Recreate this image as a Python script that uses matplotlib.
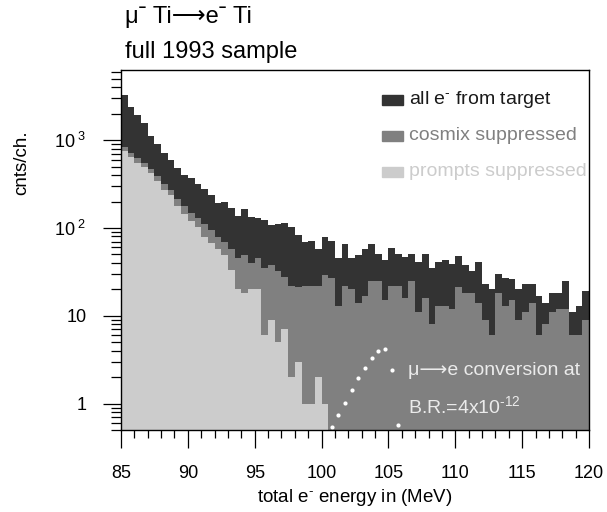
import numpy as np
import matplotlib
matplotlib.use("Agg")
import matplotlib.pyplot as plt
from matplotlib.patches import Rectangle
from matplotlib.ticker import FixedLocator, LogLocator, NullFormatter, MultipleLocator

plt.rcParams['font.family'] = ['Liberation Sans', 'DejaVu Sans']
plt.rcParams['mathtext.fontset'] = 'custom'
plt.rcParams['mathtext.rm'] = 'Liberation Sans'
plt.rcParams['mathtext.it'] = 'Liberation Sans:italic'

# 0.5 MeV channels from 85 to 120 MeV
bin_edges = np.arange(85, 120.01, 0.5)

# all e- from target
all_e = [3300, 2400, 1950, 1550, 1120, 900, 710, 595, 480, 400,
         368, 317, 278, 237, 191, 199, 167, 137, 163, 132,
         129, 123, 107, 110, 115, 102, 83, 70, 71, 57,
         79, 71, 46, 66, 45, 49, 57, 66, 50, 43,
         59, 51, 47, 51, 41, 51, 35, 41, 43, 39,
         48, 38, 32, 41, 23, 20, 30, 27, 26, 20,
         23, 23, 17, 14, 18, 18, 25, 11, 13, 19]

# cosmix suppressed
cosmix = [830, 710, 622, 550, 468, 392, 320, 272, 212, 178,
          147, 130, 111, 95, 78, 70, 58, 45, 49, 40,
          45, 35, 38, 32, 28, 22, 21, 22, 22, 22,
          29, 27, 13, 22, 20, 14, 17, 25, 25, 15,
          22, 22, 16, 25, 11, 16, 8, 13, 13, 12,
          21, 18, 18, 14, 9, 6, 18, 13, 15, 9,
          11, 14, 6, 8, 11, 12, 12, 6, 6, 9]

# prompts suppressed (empty above 100.5 MeV)
prompts = [759, 649, 554, 491, 420, 345, 270, 237, 178, 144,
           121, 103, 79, 67, 57, 49, 33, 20, 18, 20,
           20, 6, 9, 5, 7, 2, 3, 1, 1, 2, 1]

# expected mu->e conversion signal at B.R. = 4e-12
signal_e = [100.75, 101.25, 101.75, 102.25, 102.75, 103.25,
            103.75, 104.25, 104.75, 105.25, 105.75]
signal_n = [0.54, 0.74, 1.02, 1.41, 1.93, 2.53, 3.31, 3.98, 4.16, 2.42, 0.57]

SUP = r"$^{\text{-}}$"   # small raised dash like the original
ARROW = "\u27f6"

legend_labels = ["all e" + SUP + " from target", "cosmix suppressed", "prompts suppressed"]
colors = ["#333333", "#808080", "#cccccc"]
text_colors = ["#1a1a1a", "#808080", "#cccccc"]

fig = plt.figure(figsize=(6.07, 5.12), dpi=100)
ax = fig.add_axes([121 / 607, 82 / 512, 468 / 607, 360 / 512])

ax.stairs(all_e, bin_edges, fill=True, color=colors[0], baseline=0.1)
ax.stairs(cosmix, bin_edges, fill=True, color=colors[1], baseline=0.1)
ax.stairs(prompts, bin_edges[:len(prompts) + 1], fill=True, color=colors[2], baseline=0.1)

ax.plot(signal_e, signal_n, 'o', color='white', ms=3, mec='none')

ax.set_yscale('log')
ax.set_xlim(85, 120)
ax.set_ylim(0.5, 6300)

ax.xaxis.set_major_locator(MultipleLocator(5))
ax.xaxis.set_minor_locator(MultipleLocator(1))
ax.yaxis.set_major_locator(FixedLocator([1, 10, 100, 1000]))
ax.yaxis.set_minor_locator(LogLocator(base=10, subs=np.arange(2, 10)))
ax.yaxis.set_minor_formatter(NullFormatter())
ax.set_yticklabels(["1", "10", "10$^{\\ 2}$", "10$^{\\ 3}$"])

ax.tick_params(which='major', direction='out', length=13, width=0.9, pad=12, labelsize=13)
ax.tick_params(which='minor', direction='out', length=6, width=0.9)
ax.tick_params(axis='y', which='minor', length=7)
for sp in ax.spines.values():
    sp.set_linewidth(1.0)

ax.set_xlabel("total e" + SUP + " energy in (MeV)", fontsize=13.5)
ax.xaxis.set_label_coords(0.5, (430 - 498) / 360)
ax.xaxis.label.set_va('center')
ax.set_ylabel("cnts/ch.", fontsize=13.5)
ax.yaxis.set_label_coords((22 - 121) / 468, (430 - 163) / 360)
ax.yaxis.label.set_va('center')

# legend drawn by hand to match spacing
for i, (lab, c, tc) in enumerate(zip(legend_labels, colors, text_colors)):
    y = (430 - (100 + 36 * i)) / 360
    ax.add_patch(Rectangle((0.558, y - 0.013), 0.045, 0.026, transform=ax.transAxes,
                           color=c, clip_on=False))
    ax.text(0.615, y, lab, transform=ax.transAxes, va='center', ha='left',
            fontsize=14, color=tc)

ax.text(0.613, 0.164, "μ" + ARROW + "e conversion at", transform=ax.transAxes,
        va='center', ha='left', fontsize=14, color='#ebebeb')
ax.text(0.613, 0.067, "B.R.=4x10$^{\\text{-}12}$", transform=ax.transAxes,
        va='center', ha='left', fontsize=14, color='#ebebeb')

# plain text title (no mathtext) so the arrow can fall back to DejaVu Sans
fig.text(125 / 607, 1 - 17 / 512, "μ\u02c9 Ti" + ARROW + "e\u02c9 Ti",
         va='center', ha='left', fontsize=17)
fig.text(125 / 607, 1 - 52 / 512, "full 1993 sample", va='center', ha='left', fontsize=17)

fig.savefig("out.png", dpi=100)
